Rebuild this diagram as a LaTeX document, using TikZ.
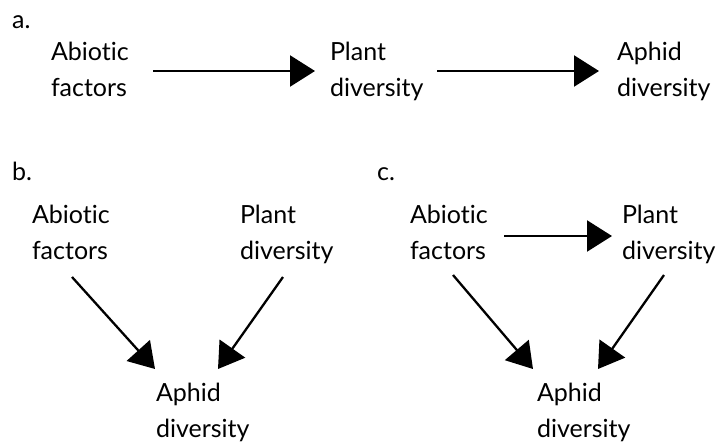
\documentclass[tikz,border=0pt]{standalone}
\usepackage{fontspec}
\setmainfont[Ligatures={NoCommon}]{Lato}
\usetikzlibrary{arrows.meta,calc}
\begin{document}
\begin{tikzpicture}[x=1pt,y=-1pt,
  lbl/.style={font=\fontsize{25}{36}\selectfont, inner sep=0pt, outer sep=0pt, align=left, anchor=north west},
  tag/.style={font=\fontsize{25}{36}\selectfont, inner sep=0pt, anchor=base west},
  arr/.style={line width=2.3pt, -{Triangle[length=25pt,width=31pt]}}]
\useasboundingbox (0,0) rectangle (716,445);
% panel a
\node[tag] (ta) at (12,28) {a.};
\node[lbl] (Aa) at (51,42) {Abiotic\\factors};
\node[lbl] (Pa) at (330,42) {Plant\\diversity};
\node[lbl] (Ha) at (617,42) {Aphid\\diversity};
\draw[arr] ($(Aa.north west)+(102,29)$) -- ($(Pa.north west)+(-15,29)$);
\draw[arr] ($(Pa.north west)+(107,29)$) -- ($(Ha.north west)+(-18,29)$);
% panel b
\node[tag] (tb) at (12,180) {b.};
\node[lbl] (Ab) at (32,205) {Abiotic\\factors};
\node[lbl] (Pb) at (240,205) {Plant\\diversity};
\node[lbl] (Hb) at (156,383) {Aphid\\diversity};
\draw[arr] ($(Ab.north west)+(40,72)$) -- ($(Hb.north west)+(-1,-14)$);
\draw[arr] ($(Pb.north west)+(43,72)$) -- ($(Hb.north west)+(62,-14)$);
% panel c
\node[tag] (tc) at (377,180) {c.};
\node[lbl] (Ac) at (410,205) {Abiotic\\factors};
\node[lbl] (Pc) at (622,205) {Plant\\diversity};
\node[lbl] (Hc) at (537,383) {Aphid\\diversity};
\draw[arr] ($(Ac.north west)+(94,31)$) -- ($(Pc.north west)+(-10,31)$);
\draw[arr] ($(Ac.north west)+(43,70)$) -- ($(Hc.north west)+(-4,-14)$);
\draw[arr] ($(Pc.north west)+(42,70)$) -- ($(Hc.north west)+(61,-14)$);
\end{tikzpicture}
\end{document}
